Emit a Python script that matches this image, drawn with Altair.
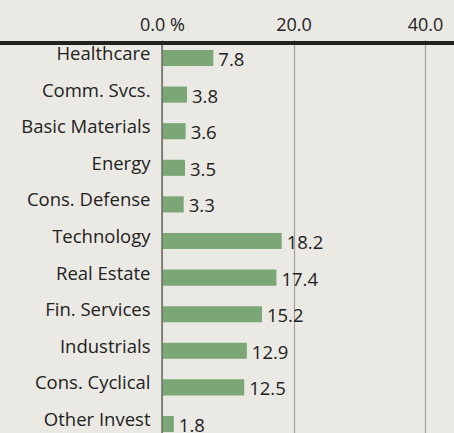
import altair as alt
import pandas as pd

categories = ["Healthcare", "Comm. Svcs.", "Basic Materials", "Energy", "Cons. Defense",
              "Technology", "Real Estate", "Fin. Services", "Industrials", "Cons. Cyclical",
              "Other Invest"]
values = [7.8, 3.8, 3.6, 3.5, 3.3, 18.2, 17.4, 15.2, 12.9, 12.5, 1.8]
ticks = [0, 20, 40]

df = pd.DataFrame({"cat": categories, "val": values})

FONT = "Open Sans"
FS = 18.5
xscale = alt.Scale(domain=[0, 44.4], nice=False, zero=True)
yscale = alt.Scale(domain=categories, range=[-1.3, 401.3], paddingInner=0.56, paddingOuter=0.28)

x = alt.X("val:Q", scale=xscale,
          axis=alt.Axis(orient="top", values=ticks, domain=False, ticks=False,
                        grid=True, gridColor="#a3a39c", gridWidth=1.2,
                        labelExpr="datum.value == 0 ? '0.0 %' : format(datum.value, '.1f')",
                        labelFontSize=18, labelFont=FONT, labelColor="#222222",
                        labelFlush=False, labelPadding=7, title=None))
y = alt.Y("cat:N", scale=yscale, sort=categories,
          axis=alt.Axis(domain=False, ticks=False, labelPadding=12, labelOffset=-4,
                        labelFontSize=FS, labelFont=FONT, labelColor="#222222",
                        title=None, labelLimit=200))

bars = alt.Chart(df).mark_bar(color="#7ba776", clip=True).encode(x=x, y=y)
labels = alt.Chart(df).mark_text(align="left", dx=5, dy=2, fontSize=FS, font=FONT,
                                 color="#222222").encode(
    x=alt.X("val:Q", scale=xscale), y=alt.Y("cat:N", scale=yscale, sort=categories),
    text=alt.Text("val:Q", format=".1f"))
zero = alt.Chart(pd.DataFrame({"z": [0]})).mark_rule(color="#6e6e66", strokeWidth=1.5).encode(
    x=alt.X("z:Q", scale=xscale))
topline = alt.Chart(pd.DataFrame({"z": [0]})).mark_rule(color="#222222", strokeWidth=4).encode(
    x=alt.value(-162), x2=alt.value(292), y=alt.value(2))

chart = alt.layer(bars, zero, labels, topline).properties(
    width=292, height=392,
    padding={"left": 162, "top": 41, "right": 0, "bottom": 0},
    autosize=alt.AutoSizeParams(type="none"),
    background="#eae9e3",
).configure_view(stroke=None)

chart.save("out.html", embed_options={"renderer": "svg", "actions": False})
